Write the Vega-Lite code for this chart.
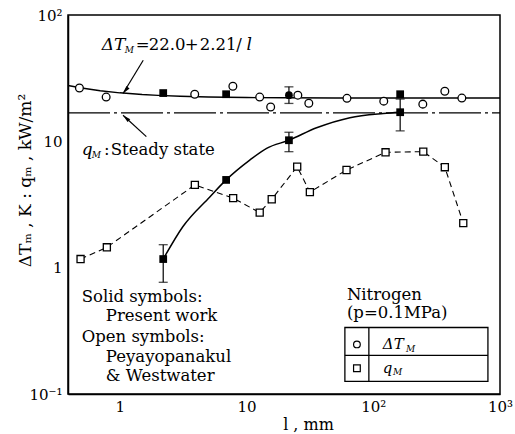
{
  "$schema": "https://vega.github.io/schema/vega-lite/v6.json",
  "width": 432,
  "height": 379,
  "autosize": "none",
  "padding": {"left": 68, "top": 15, "right": 15, "bottom": 40},
  "background": "white",
  "config": {
    "font": "DejaVu Serif",
    "view": {"stroke": "black", "strokeWidth": 1.5},
    "axis": {
      "domainColor": "black", "domainWidth": 1.5, "ticks": false,
      "labelColor": "black", "titleColor": "black", "labelFont": "DejaVu Serif", "titleFont": "DejaVu Serif",
      "labelFontSize": 15, "titleFontSize": 16, "titleFontWeight": "normal", "grid": false
    }
  },
  "datasets": {
    "xMin": [
      {"l": 0.4}, {"l": 0.5}, {"l": 0.6}, {"l": 0.7}, {"l": 0.8}, {"l": 0.9},
      {"l": 2}, {"l": 3}, {"l": 4}, {"l": 5}, {"l": 6}, {"l": 7}, {"l": 8}, {"l": 9},
      {"l": 20}, {"l": 30}, {"l": 40}, {"l": 50}, {"l": 60}, {"l": 70}, {"l": 80}, {"l": 90},
      {"l": 200}, {"l": 300}, {"l": 400}, {"l": 500}, {"l": 600}, {"l": 700}, {"l": 800}, {"l": 900}
    ],
    "xMaj": [{"l": 1}, {"l": 10}, {"l": 100}],
    "yMin": [
      {"v": 0.2}, {"v": 0.3}, {"v": 0.4}, {"v": 0.5}, {"v": 0.6}, {"v": 0.7}, {"v": 0.8}, {"v": 0.9},
      {"v": 2}, {"v": 3}, {"v": 4}, {"v": 5}, {"v": 6}, {"v": 7}, {"v": 8}, {"v": 9},
      {"v": 20}, {"v": 30}, {"v": 40}, {"v": 50}, {"v": 60}, {"v": 70}, {"v": 80}, {"v": 90}
    ],
    "yMaj": [{"v": 1}, {"v": 10}],
    "curveT": [
      {"l": 0.39, "v": 27.67}, {"l": 0.5, "v": 26.42}, {"l": 0.7, "v": 25.16}, {"l": 1, "v": 24.21},
      {"l": 1.5, "v": 23.47}, {"l": 2, "v": 23.11}, {"l": 3, "v": 22.74}, {"l": 5, "v": 22.44},
      {"l": 7, "v": 22.32}, {"l": 10, "v": 22.22}, {"l": 20, "v": 22.11}, {"l": 50, "v": 22.04},
      {"l": 100, "v": 22.02}, {"l": 1000, "v": 22.0}
    ],
    "steady": [{"l": 0.39, "v": 16.8}, {"l": 1000, "v": 16.8}],
    "curveQ": [
      {"l": 2.2, "v": 1.17}, {"l": 3.14, "v": 2.11}, {"l": 5.13, "v": 3.63}, {"l": 6.9, "v": 4.95},
      {"l": 10.6, "v": 7.1}, {"l": 14.4, "v": 8.8}, {"l": 21.6, "v": 10.2}, {"l": 35.7, "v": 12.8},
      {"l": 65.4, "v": 15.4}, {"l": 120, "v": 16.6}, {"l": 163, "v": 17.0}
    ],
    "openT": [
      {"l": 0.48, "v": 26.4}, {"l": 0.78, "v": 22.4}, {"l": 3.9, "v": 23.6}, {"l": 7.8, "v": 27.3},
      {"l": 12.7, "v": 22.4}, {"l": 15.5, "v": 18.7}, {"l": 25.4, "v": 23.2}, {"l": 31, "v": 20.0},
      {"l": 62, "v": 21.9}, {"l": 121, "v": 20.8}, {"l": 246, "v": 19.7}, {"l": 367, "v": 24.9},
      {"l": 500, "v": 22.0}
    ],
    "openQ": [
      {"l": 0.49, "v": 1.17}, {"l": 0.79, "v": 1.45}, {"l": 3.91, "v": 4.52}, {"l": 7.84, "v": 3.55},
      {"l": 12.7, "v": 2.73}, {"l": 15.8, "v": 3.48}, {"l": 25.1, "v": 6.3}, {"l": 31.6, "v": 3.96},
      {"l": 61.5, "v": 5.93}, {"l": 125, "v": 8.19}, {"l": 248, "v": 8.28}, {"l": 367, "v": 6.24},
      {"l": 513, "v": 2.25}
    ],
    "solidT": [
      {"l": 2.2, "v": 24.1, "s": "square"}, {"l": 6.9, "v": 23.6, "s": "square"},
      {"l": 21.6, "v": 23.2, "s": "circle"}, {"l": 163, "v": 23.6, "s": "square"}
    ],
    "solidQ": [
      {"l": 2.2, "v": 1.17}, {"l": 6.9, "v": 4.95}, {"l": 21.6, "v": 10.2}, {"l": 163, "v": 17.0}
    ],
    "errs": [
      {"l": 2.2, "lo": 0.766, "hi": 1.52}, {"l": 21.6, "lo": 8.28, "hi": 11.8},
      {"l": 21.6, "lo": 19.95, "hi": 27.0}, {"l": 163, "lo": 12.1, "hi": 21.6}
    ],
    "arrows": [
      {"id": "a", "l": 1.53, "v": 43.8}, {"id": "a", "l": 1.06, "v": 23.9},
      {"id": "b", "l": 1.62, "v": 10.9}, {"id": "b", "l": 1.06, "v": 16.1}
    ],
    "heads": [
      {"l": 1.06, "v": 23.9, "a": 218.7}, {"l": 1.06, "v": 16.1, "a": 312.8}
    ],
    "box": [{"l": 59.7, "l2": 803, "v": 0.126, "v2": 0.336}],
    "hdiv": [{"l": 59.7, "l2": 803, "v": 0.202}],
    "vdiv": [{"l": 92.3, "v": 0.126, "v2": 0.336}],
    "legC": [{"l": 74.3, "v": 0.247}],
    "legS": [{"l": 74.3, "v": 0.16}],
    "txtN": [
      {"l": 1.338, "v": 57.5, "t": "="},
      {"l": 1.694, "v": 57.5, "t": "22.0"},
      {"l": 3.26, "v": 57.5, "t": "+"},
      {"l": 4.28, "v": 57.5, "t": "2.21"},
      {"l": 8.3, "v": 57.5, "t": "/"},
      {"l": 0.75, "v": 8.5, "t": ":"},
      {"l": 0.849, "v": 8.5, "t": "Steady state"},
      {"l": 0.5, "v": 0.59, "t": "Solid symbols:"},
      {"l": 0.776, "v": 0.418, "t": "Present work"},
      {"l": 0.5, "v": 0.285, "t": "Open symbols:"},
      {"l": 0.776, "v": 0.198, "t": "Peyayopanakul"},
      {"l": 0.776, "v": 0.138, "t": "& Westwater"},
      {"l": 61.9, "v": 0.612, "t": "Nitrogen"},
      {"l": 61.9, "v": 0.44, "t": "(p=0.1MPa)"}
    ],
    "txtI": [
      {"l": 0.721, "v": 57.5, "t": "ΔT"},
      {"l": 10.0, "v": 57.5, "t": "l"},
      {"l": 0.5, "v": 8.5, "t": "q"}
    ],
    "txtL": [
      {"l": 119, "v": 0.247, "t": "ΔT"},
      {"l": 119, "v": 0.16, "t": "q"}
    ],
    "txtS": [
      {"l": 1.095, "v": 52.6, "t": "M"},
      {"l": 0.601, "v": 7.8, "t": "M"},
      {"l": 181, "v": 0.228, "t": "M"},
      {"l": 143, "v": 0.148, "t": "M"}
    ]
  },
  "encoding": {
    "x": {"field": "l", "type": "quantitative", "scale": {"type": "log", "domain": [0.39, 1000], "nice": false}, "axis": null},
    "y": {"field": "v", "type": "quantitative", "scale": {"type": "log", "domain": [0.1, 100], "nice": false}, "axis": null}
  },
  "resolve": {"axis": {"x": "independent", "y": "independent"}},
  "layer": [
    {
      "data": {"name": "curveT"},
      "mark": {"type": "line", "color": "black", "strokeWidth": 1.4},
      "encoding": {
        "x": {"field": "l", "type": "quantitative", "scale": {"type": "log", "domain": [0.39, 1000], "nice": false},
          "axis": {"orient": "bottom", "title": "l , mm", "titleX": 240, "titleY": 30, "titleBaseline": "middle", "titleAlign": "center", "titleFontSize": 16,
            "values": [1, 10, 100, 1000],
            "labelExpr": "datum.value==1?'1':datum.value==10?'10':datum.value==100?'10²':datum.value==1000?'10³':''",
            "labelPadding": 5, "labelFlush": false, "labelOverlap": false}},
        "y": {"field": "v", "type": "quantitative", "scale": {"type": "log", "domain": [0.1, 100], "nice": false},
          "axis": {"orient": "left", "title": "ΔTₘ , K : qₘ , kW/m²", "titleX": -43, "titleY": 165, "titleBaseline": "middle", "titleAlign": "center", "titleFontSize": 17,
            "values": [0.1, 1, 10, 100],
            "labelExpr": "datum.value==0.1?'10⁻¹':datum.value==1?'1':datum.value==10?'10':datum.value==100?'10²':''",
            "labelPadding": 6, "labelFlush": false, "labelOverlap": false}}
      }
    },
    {
      "data": {"name": "xMin"},
      "mark": {"type": "rule", "color": "black", "strokeWidth": 1.3, "y2Offset": -5},
      "encoding": {"y": {"datum": 0.1, "type": "quantitative"}, "y2": {"datum": 0.1}}
    },
    {
      "data": {"name": "xMaj"},
      "mark": {"type": "rule", "color": "black", "strokeWidth": 1.3, "y2Offset": -9},
      "encoding": {"y": {"datum": 0.1, "type": "quantitative"}, "y2": {"datum": 0.1}}
    },
    {
      "data": {"name": "xMin"},
      "mark": {"type": "rule", "color": "black", "strokeWidth": 1.3, "y2Offset": 5},
      "encoding": {"y": {"datum": 100, "type": "quantitative"}, "y2": {"datum": 100}}
    },
    {
      "data": {"name": "xMaj"},
      "mark": {"type": "rule", "color": "black", "strokeWidth": 1.3, "y2Offset": 9},
      "encoding": {"y": {"datum": 100, "type": "quantitative"}, "y2": {"datum": 100}}
    },
    {
      "data": {"name": "yMin"},
      "mark": {"type": "rule", "color": "black", "strokeWidth": 1.3, "x2Offset": 5},
      "encoding": {"x": {"datum": 0.39, "type": "quantitative"}, "x2": {"datum": 0.39}}
    },
    {
      "data": {"name": "yMaj"},
      "mark": {"type": "rule", "color": "black", "strokeWidth": 1.3, "x2Offset": 9},
      "encoding": {"x": {"datum": 0.39, "type": "quantitative"}, "x2": {"datum": 0.39}}
    },
    {
      "data": {"name": "yMin"},
      "mark": {"type": "rule", "color": "black", "strokeWidth": 1.3, "x2Offset": -5},
      "encoding": {"x": {"datum": 1000, "type": "quantitative"}, "x2": {"datum": 1000}}
    },
    {
      "data": {"name": "yMaj"},
      "mark": {"type": "rule", "color": "black", "strokeWidth": 1.3, "x2Offset": -9},
      "encoding": {"x": {"datum": 1000, "type": "quantitative"}, "x2": {"datum": 1000}}
    },
    {
      "data": {"name": "steady"},
      "mark": {"type": "line", "color": "black", "strokeWidth": 1.4, "strokeDash": [42, 4, 3, 4]},
      "encoding": {}
    },
    {
      "data": {"name": "curveQ"},
      "mark": {"type": "line", "color": "black", "strokeWidth": 1.5, "interpolate": "monotone"},
      "encoding": {}
    },
    {
      "data": {"name": "openQ"},
      "mark": {"type": "line", "color": "black", "strokeWidth": 1.1, "strokeDash": [6, 4]},
      "encoding": {}
    },
    {
      "data": {"name": "errs"},
      "mark": {"type": "rule", "color": "black", "strokeWidth": 1.2},
      "encoding": {"y": {"field": "lo", "type": "quantitative", "axis": null}, "y2": {"field": "hi"}}
    },
    {
      "data": {"name": "errs"},
      "mark": {"type": "tick", "color": "black", "orient": "horizontal", "size": 9, "thickness": 1.3},
      "encoding": {"y": {"field": "lo", "type": "quantitative", "axis": null}}
    },
    {
      "data": {"name": "errs"},
      "mark": {"type": "tick", "color": "black", "orient": "horizontal", "size": 9, "thickness": 1.3},
      "encoding": {"y": {"field": "hi", "type": "quantitative", "axis": null}}
    },
    {
      "data": {"name": "openQ"},
      "mark": {"type": "point", "shape": "square", "filled": true, "fill": "white", "stroke": "black", "strokeWidth": 1.3, "size": 50, "opacity": 1},
      "encoding": {}
    },
    {
      "data": {"name": "openT"},
      "mark": {"type": "point", "shape": "circle", "filled": true, "fill": "white", "stroke": "black", "strokeWidth": 1.3, "size": 60, "opacity": 1},
      "encoding": {}
    },
    {
      "data": {"name": "solidT"},
      "mark": {"type": "point", "filled": true, "color": "black", "size": 60, "opacity": 1},
      "encoding": {"shape": {"field": "s", "type": "nominal", "scale": null, "legend": null}}
    },
    {
      "data": {"name": "solidQ"},
      "mark": {"type": "point", "shape": "square", "filled": true, "color": "black", "size": 60, "opacity": 1},
      "encoding": {}
    },
    {
      "data": {"name": "arrows"},
      "mark": {"type": "line", "color": "black", "strokeWidth": 1.2},
      "encoding": {"detail": {"field": "id", "type": "nominal"}}
    },
    {
      "data": {"name": "heads"},
      "mark": {"type": "point", "shape": "M0,0L-0.5,2L0.5,2Z", "filled": true, "color": "black", "size": 64, "opacity": 1},
      "encoding": {"angle": {"field": "a", "type": "quantitative", "scale": null}}
    },
    {
      "data": {"name": "box"},
      "mark": {"type": "rect", "fillOpacity": 0, "stroke": "black", "strokeWidth": 1.3},
      "encoding": {"x2": {"field": "l2"}, "y2": {"field": "v2"}}
    },
    {
      "data": {"name": "hdiv"},
      "mark": {"type": "rule", "color": "black", "strokeWidth": 1.3},
      "encoding": {"x2": {"field": "l2"}}
    },
    {
      "data": {"name": "vdiv"},
      "mark": {"type": "rule", "color": "black", "strokeWidth": 1.3},
      "encoding": {"y2": {"field": "v2"}}
    },
    {
      "data": {"name": "legC"},
      "mark": {"type": "point", "shape": "circle", "filled": true, "fill": "white", "stroke": "black", "strokeWidth": 1.2, "size": 45, "opacity": 1},
      "encoding": {}
    },
    {
      "data": {"name": "legS"},
      "mark": {"type": "point", "shape": "square", "filled": true, "fill": "white", "stroke": "black", "strokeWidth": 1.2, "size": 45, "opacity": 1},
      "encoding": {}
    },
    {
      "data": {"name": "txtN"},
      "mark": {"type": "text", "align": "left", "baseline": "middle", "fontSize": 16.5, "font": "DejaVu Serif", "color": "black"},
      "encoding": {"text": {"field": "t", "type": "nominal"}}
    },
    {
      "data": {"name": "txtI"},
      "mark": {"type": "text", "align": "left", "baseline": "middle", "fontSize": 17, "fontStyle": "italic", "font": "DejaVu Serif", "color": "black"},
      "encoding": {"text": {"field": "t", "type": "nominal"}}
    },
    {
      "data": {"name": "txtL"},
      "mark": {"type": "text", "align": "left", "baseline": "middle", "fontSize": 15, "fontStyle": "italic", "font": "DejaVu Serif", "color": "black"},
      "encoding": {"text": {"field": "t", "type": "nominal"}}
    },
    {
      "data": {"name": "txtS"},
      "mark": {"type": "text", "align": "left", "baseline": "middle", "fontSize": 9, "fontStyle": "italic", "font": "DejaVu Serif", "color": "black"},
      "encoding": {"text": {"field": "t", "type": "nominal"}}
    }
  ]
}
